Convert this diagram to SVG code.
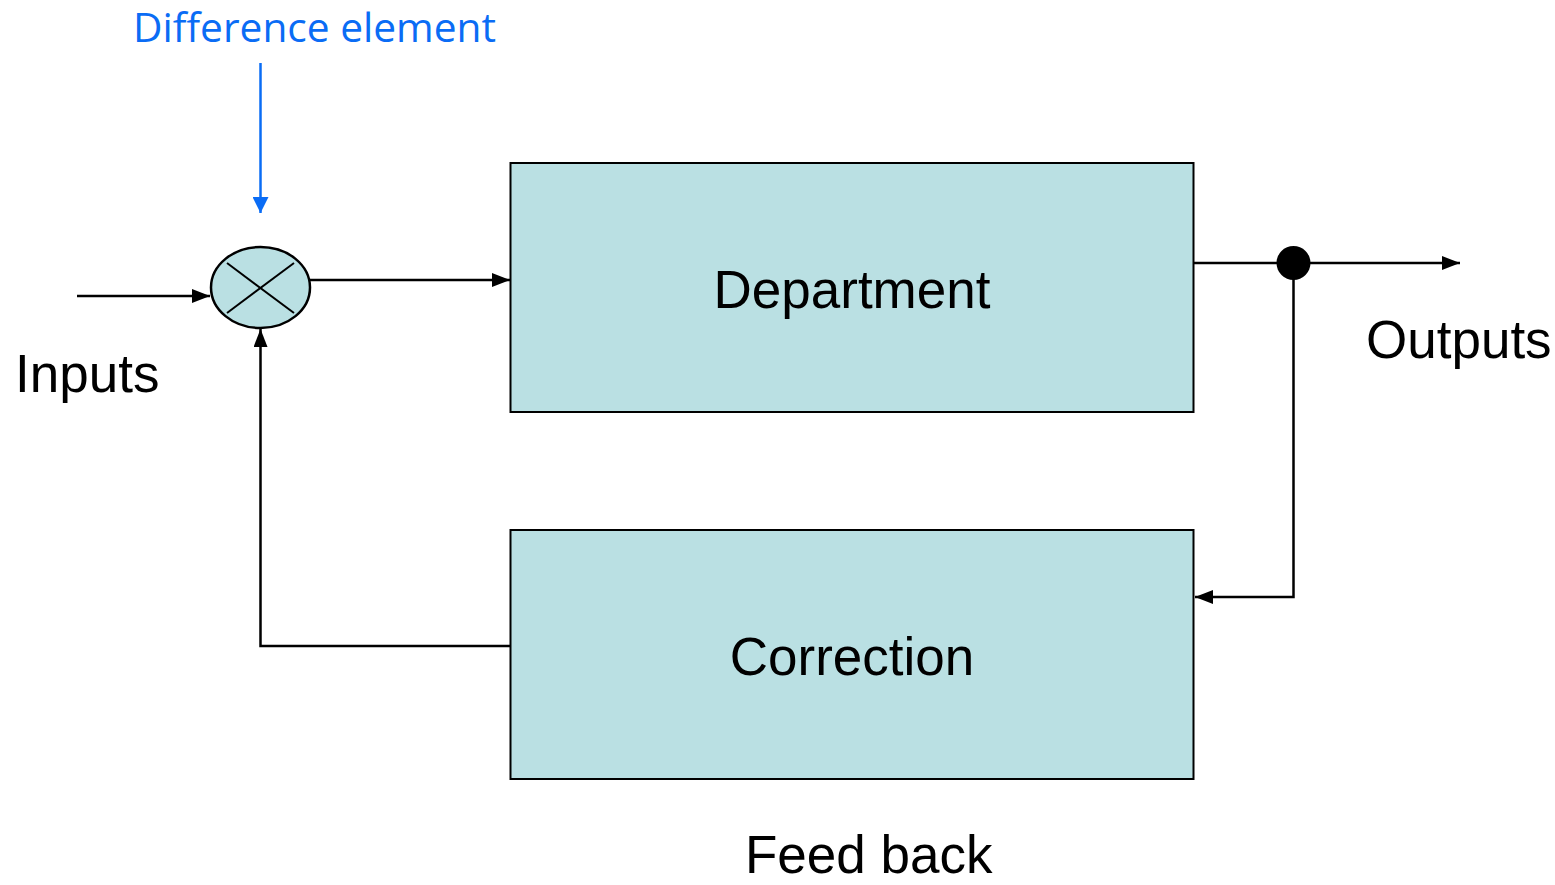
<svg xmlns="http://www.w3.org/2000/svg" width="1555" height="885" viewBox="0 0 1555 885">
<defs>
<style>
.box{fill:#BAE0E3;stroke:#000;stroke-width:2}
.ln{fill:none;stroke:#000;stroke-width:2.5}
.t{font-family:"Liberation Sans",Arial,sans-serif;font-size:53px;fill:#000}
.b{font-family:"Open Sans","Noto Sans",sans-serif;font-size:40px;fill:#0A6CF5}
</style>
<marker id="a" viewBox="0 0 18 14" refX="18" refY="7" markerWidth="18" markerHeight="14" orient="auto" markerUnits="userSpaceOnUse">
<path d="M0,0 L18,7 L0,14 z" fill="#000"/>
</marker>
<marker id="ab" viewBox="0 0 16 16" refX="16" refY="8" markerWidth="16" markerHeight="16" orient="auto" markerUnits="userSpaceOnUse">
<path d="M0,0 L16,8 L0,16 z" fill="#0A6CF5"/>
</marker>
</defs>
<rect width="1555" height="885" fill="#fff"/>
<g id="department">
<rect class="box" x="510.5" y="163" width="683" height="249"/>
<text class="t" x="852" y="308" text-anchor="middle">Department</text>
</g>
<g id="correction">
<rect class="box" x="510.5" y="530" width="683" height="249"/>
<text class="t" x="852" y="675" text-anchor="middle">Correction</text>
</g>
<g id="difference">
<ellipse cx="260.5" cy="287.5" rx="49.5" ry="40.5" fill="#BAE0E3" stroke="#000" stroke-width="2.5"/>
<line x1="227" y1="263" x2="294" y2="313" stroke="#000" stroke-width="2"/>
<line x1="227" y1="313" x2="294" y2="263" stroke="#000" stroke-width="2"/>
</g>
<g id="junction">
<circle cx="1293.5" cy="263" r="17" fill="#000"/>
</g>
<g id="connectors">
<line class="ln" x1="77" y1="296" x2="210" y2="296" marker-end="url(#a)"/>
<line class="ln" x1="310" y1="280" x2="510" y2="280" marker-end="url(#a)"/>
<line class="ln" x1="1194" y1="263" x2="1460" y2="263" marker-end="url(#a)"/>
<polyline class="ln" points="1293.5,263 1293.5,597 1195,597" marker-end="url(#a)"/>
<polyline class="ln" points="510,646 260.5,646 260.5,329" marker-end="url(#a)"/>
<line x1="260.5" y1="63" x2="260.5" y2="213" stroke="#0A6CF5" stroke-width="2.5" marker-end="url(#ab)"/>
</g>
<g id="labels">
<text class="b" x="133" y="42" textLength="363" lengthAdjust="spacingAndGlyphs">Difference element</text>
<text class="t" x="15" y="392">Inputs</text>
<text class="t" x="1366" y="358">Outputs</text>
<text class="t" x="745" y="873">Feed back</text>
</g>
</svg>
